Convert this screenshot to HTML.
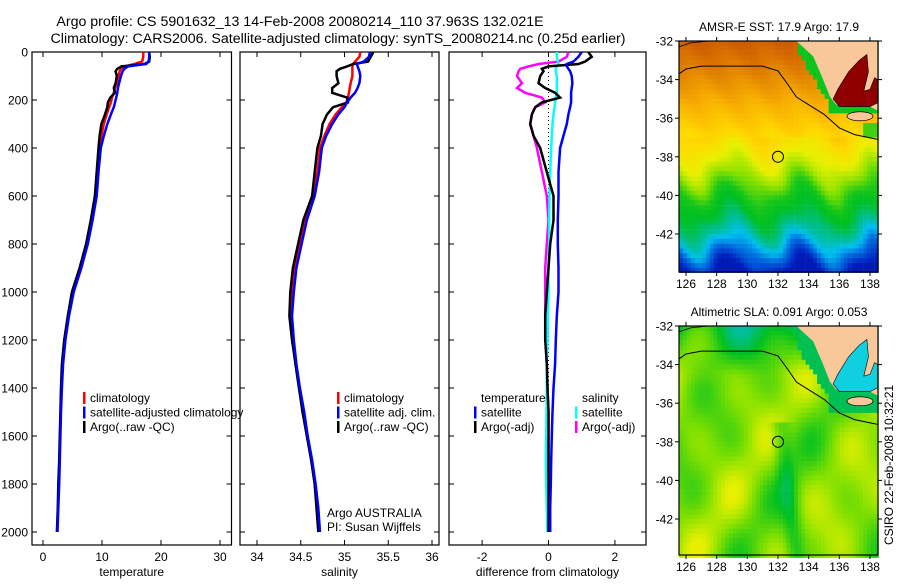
<!DOCTYPE html>
<html><head><meta charset="utf-8"><style>
body{margin:0;background:#fff;width:900px;height:580px;overflow:hidden}
svg text{font-family:"Liberation Sans",sans-serif;fill:#000}
</style></head><body>
<svg id="s" width="900" height="580" viewBox="0 0 900 580" xmlns="http://www.w3.org/2000/svg">
<text x="300" y="26" font-size="14.2" text-anchor="middle">Argo profile: CS 5901632_13 14-Feb-2008 20080214_110 37.963S 132.021E</text>
<text x="338" y="43" font-size="14.2" text-anchor="middle">Climatology: CARS2006. Satellite-adjusted climatology: synTS_20080214.nc (0.25d earlier)</text>
<text x="779" y="31" font-size="12" text-anchor="middle">AMSR-E SST: 17.9 Argo: 17.9</text>
<text x="779" y="316" font-size="12" text-anchor="middle">Altimetric SLA: 0.091 Argo: 0.053</text>
<text transform="translate(893,545) rotate(-90)" font-size="12">CSIRO 22-Feb-2008 10:32:21</text>
<g id="g"></g>
</svg>
<script>
// ---- profile data ----
const depth=[0,20,40,50,60,70,80,100,130,150,170,190,210,230,260,300,350,400,500,600,700,800,900,1000,1100,1200,1300,1400,1500,1600,1700,1800,1900,2000];
const climT=[17,17,16.8,15.5,13.9,13.2,13.0,12.8,12.5,12.2,12.0,11.7,11.5,11.2,10.8,10.3,9.9,9.6,9.3,8.9,8.2,7.4,6.3,5.0,4.3,3.7,3.3,3.1,3.0,2.9,2.8,2.7,2.55,2.4];
const satT=[18,18,17.9,17.5,14.4,13.8,13.5,13.2,12.9,12.7,12.6,12.4,12.2,12.0,11.5,10.9,10.3,9.8,9.4,9.1,8.4,7.6,6.5,5.2,4.4,3.8,3.4,3.2,3.05,2.95,2.85,2.75,2.6,2.45];
const argoT=[18,18.1,18.0,17.2,13.3,12.6,12.3,12.5,12.3,12.0,12.2,11.4,11.0,10.9,10.5,9.9,9.6,9.4,9.1,8.8,8.1,7.3,6.2,4.9,4.2,3.6,3.2,3.05,2.95,2.85,2.75,2.6,2.5,2.35];
const climS=[35.18,35.17,35.12,35.10,35.09,35.09,35.09,35.09,35.07,35.06,35.05,35.04,35.02,34.97,34.90,34.83,34.77,34.72,34.69,34.64,34.55,34.49,34.43,34.40,34.39,34.41,34.44,34.48,34.53,34.57,34.62,34.66,34.69,34.71];
const satS=[35.29,35.28,35.22,35.14,35.15,35.16,35.17,35.18,35.17,35.15,35.12,35.07,35.03,35.00,34.93,34.86,34.79,34.74,34.71,34.66,34.57,34.51,34.45,34.42,34.40,34.42,34.45,34.49,34.54,34.58,34.63,34.67,34.70,34.72];
const argoS=[35.33,35.30,35.27,35.10,35.03,34.95,34.91,34.91,34.93,34.86,34.86,35.03,35.04,34.87,34.80,34.75,34.73,34.69,34.66,34.63,34.53,34.47,34.41,34.38,34.37,34.40,34.44,34.48,34.52,34.57,34.62,34.66,34.68,34.70];
const satTdiff=[1.0,0.9,0.75,0.55,0.55,0.6,0.65,0.7,0.72,0.7,0.68,0.68,0.68,0.65,0.6,0.55,0.45,0.35,0.3,0.3,0.28,0.28,0.3,0.3,0.25,0.22,0.2,0.15,0.12,0.1,0.08,0.07,0.05,0.05];
const argoTdiff=[1.2,1.3,1.1,0.9,0,-0.2,-0.15,-0.25,-0.3,-0.1,0.2,0.35,-0.2,-0.4,-0.5,-0.55,-0.45,-0.25,-0.05,0.15,0.15,0.05,0.0,-0.05,-0.1,-0.1,-0.05,-0.03,0,0,0,0,0,0];
const satSdiff=[0.25,0.25,0.28,0.3,0.25,0.22,0.22,0.25,0.25,0.25,0.25,0.22,0.2,0.18,0.15,0.12,0.1,0.08,0.05,0.03,0.02,0.02,0,0,-0.02,-0.03,-0.05,-0.05,-0.06,-0.07,-0.08,-0.07,-0.05,-0.04];
const argoSdiff=[0.6,0.55,0.3,-0.3,-0.6,-0.85,-0.9,-0.95,-0.8,-0.95,-0.7,-0.2,-0.1,-0.4,-0.5,-0.55,-0.45,-0.35,-0.2,-0.05,0,-0.05,-0.1,-0.1,-0.1,-0.08,-0.05,-0.03,0,0,0,0,-0.02,-0.02];
const depthTicks=[0,200,400,600,800,1000,1200,1400,1600,1800,2000];
const tempTicks=[0,10,20,30];
const salTicks=[34,34.5,35,35.5,36];
const diffTicks=[-2,0,2];
const mapLonTicks=[126,128,130,132,134,136,138];
const mapLatTicks=[-32,-34,-36,-38,-40,-42];

const NS='http://www.w3.org/2000/svg';
const G=document.getElementById('g');
function el(tag,attrs,parent,txt){const e=document.createElementNS(NS,tag);for(const k in attrs)e.setAttribute(k,attrs[k]);if(txt!=null)e.textContent=txt;(parent||G).appendChild(e);return e;}
const yD=d=>52+d*0.24;
const Y0=52,Y1=545;
const panels=[
 {name:'temperature',x0:32,x1:231.5,v0:43,sc:5.9,ref:0,ticks:tempTicks,label:'temperature',ylab:true},
 {name:'salinity',x0:240,x1:439,v0:257,sc:87.5,ref:34,ticks:salTicks,label:'salinity'},
 {name:'difference',x0:449,x1:646,v0:548.5,sc:33.2,ref:0,ticks:diffTicks,label:'difference from climatology'}
];
panels.forEach(p=>{
  p.x=v=>p.v0+(v-p.ref)*p.sc;
  const g=el('g',{});
  
  
  el('rect',{x:p.x0,y:Y0,width:p.x1-p.x0,height:Y1-Y0,fill:'none',stroke:'#000','stroke-width':1.2},g);
  depthTicks.forEach(d=>{
    const y=yD(d);
    el('line',{x1:p.x0,x2:p.x0+5,y1:y,y2:y,stroke:'#000'},g);
    el('line',{x1:p.x1,x2:p.x1-5,y1:y,y2:y,stroke:'#000'},g);
    if(p.ylab){const t=el('text',{x:p.x0-4,y:y+4.5,'font-size':12,'text-anchor':'end'},g,String(d));
      
      }
  });
  p.ticks.forEach(v=>{
    const x=p.x(v);
    el('line',{x1:x,x2:x,y1:Y0,y2:Y0+5,stroke:'#000'},g);
    el('line',{x1:x,x2:x,y1:Y1,y2:Y1-5,stroke:'#000'},g);
    const t=el('text',{x:x,y:561,'font-size':12,'text-anchor':'middle'},g,String(v));
    
    
  });
  const t=el('text',{x:(p.x0+p.x1)/2,y:576,'font-size':12,'text-anchor':'middle'},g,p.label);
  
  
});
function line(p,vals,color,name,w){
  const pts=vals.map((v,i)=>p.x(v).toFixed(1)+','+yD(depth[i]).toFixed(1)).join(' ');
  const l=el('polyline',{points:pts,fill:'none',stroke:color,'stroke-width':w||2.5,'stroke-linejoin':'miter'});
  
  
}
const [P1,P2,P3]=panels;
line(P1,climT,'#f00','temp-climatology-line');line(P1,argoT,'#000','temp-argo-line');line(P1,satT,'#00f','temp-satellite-line');
line(P2,climS,'#f00','sal-climatology-line');line(P2,argoS,'#000','sal-argo-line');line(P2,satS,'#00f','sal-satellite-line');
const zl=el('line',{x1:P3.x(0),x2:P3.x(0),y1:Y0,y2:yD(2000),stroke:'#000','stroke-dasharray':'1 3','stroke-width':1});


line(P3,argoSdiff,'#f0f','sal-argo-diff-line');line(P3,satSdiff,'#0ff','sal-satellite-diff-line');
line(P3,argoTdiff,'#000','temp-argo-diff-line');line(P3,satTdiff,'#00f','temp-satellite-diff-line');
function legend(x,y,items,nm){
  items.forEach((it,i)=>{
    const yy=y+i*14.5;
    if(it[1]){const r=el('rect',{x:x,y:yy-10,width:2.5,height:12,fill:it[1]});
      
      }
    const t=el('text',{x:x+7,y:yy,'font-size':12},null,it[0]);
    
    
  });
}
legend(83,402,[['climatology','#f00'],['satellite-adjusted climatology','#00f'],['Argo(..raw -QC)','#000']],'temp');
legend(337,402,[['climatology','#f00'],['satellite adj. clim.','#00f'],['Argo(..raw -QC)','#000']],'sal');
legend(474,402,[['temperature',null],['satellite','#00f'],['Argo(-adj)','#000']],'diff-temp');
legend(575,402,[['salinity',null],['satellite','#0ff'],['Argo(-adj)','#f0f']],'diff-sal');
[['Argo AUSTRALIA',517],['PI: Susan Wijffels',531]].forEach(a=>{const t=el('text',{x:327,y:a[1],'font-size':12},null,a[0]);
  
  });

// ---- maps ----
const stops=[[0,[0,0,127]],[0.15,[0,32,192]],[0.25,[0,112,224]],[0.32,[0,192,240]],[0.38,[0,190,150]],[0.45,[0,192,32]],[0.55,[128,224,0]],[0.63,[232,240,0]],[0.7,[255,216,0]],[0.78,[248,176,0]],[0.86,[224,128,0]],[0.93,[192,64,0]],[1,[144,0,0]]];
function cmap(v){v=Math.max(0,Math.min(1,v));for(let i=1;i<stops.length;i++){if(v<=stops[i][0]){const a=stops[i-1],b=stops[i],t=(v-a[0])/(b[0]-a[0]);return 'rgb('+a[1].map((c,k)=>Math.round(c+(b[1][k]-c)*t)).join(',')+')';}}return 'rgb(144,0,0)';}
const coastLat=lon=>lon<133.2?99:(lon<135.4?-32-(lon-133.2)*(2.9/2.2):-35.4);
const sstS=[0,1.5,3,4.5,6,7,8,9,10,10.6,11.2,12];
const sstV=[0.9,0.86,0.79,0.72,0.64,0.57,0.47,0.44,0.37,0.3,0.22,0.12];
function interp(xs,ys,x){if(x<=xs[0])return ys[0];for(let i=1;i<xs.length;i++)if(x<=xs[i])return ys[i-1]+(ys[i]-ys[i-1])*(x-xs[i-1])/(xs[i]-xs[i-1]);return ys[ys.length-1];}
function sst(lat,lon){
  let s=(-32-lat);
  if(s>5) s+=0.6*Math.sin((lon-127.8)*Math.PI/2.3);
  s+=0.25*Math.sin(lon*2.3+lat*1.7);
  let v=interp(sstS,sstV,s);
  const c=coastLat(lon); if(c<50 && c-lat<0.45 && lat>-36.2) v=0.46;
  if(lon>137.6&&lat>-37.1&&lat<-36.2) v=0.5;
  return v;
}
function sla(lat,lon){
  let v=0.55+0.05*Math.sin(1.3*(lon-126)+0.5)*Math.cos(1.1*(lat+38))+0.04*Math.sin(0.8*lon-0.6*lat);
  if(lat<-37) v-=0.08*Math.exp(-Math.pow(lon-132.3-(-38-lat)*0.15,2)/0.4);
  if(lat>-34.5) v-=(lat+34.5)*0.05;
  const c=coastLat(lon); if(c<50 && c-lat<1.0) v=Math.min(v,0.42);
  return v;
}
const maps=[{name:'sst-map',top:41,bottom:272,f:sst,gulf:'#900000'},{name:'sla-map',top:326,bottom:555,f:sla,gulf:'#10d0e0'}];
const lonX=lon=>686+(lon-126)*15.33;
maps.forEach(m=>{
  const latY=lat=>m.top+(-32-lat)*19.3;
  const g=el('g',{});
  
  
  const L0=125.55,L1=138.5,B=-32-(m.bottom-m.top)/19.3;
  for(let lon=L0;lon<L1;lon+=0.25){for(let lat=-32;lat>B;lat-=0.25){
    el('rect',{x:lonX(lon).toFixed(1),y:latY(lat).toFixed(1),width:4.1,height:5.1,fill:cmap(m.f(lat-0.125,lon+0.125))},g);
  }}
  const P=a=>a.map(q=>lonX(q[0]).toFixed(1)+','+latY(q[1]).toFixed(1)).join(' ');
  const land=el('polygon',{points:P([[133.2,-32],[134.3,-32.8],[134.9,-33.9],[135.4,-34.9],[135.8,-35.3],[138,-35.4],[138.5,-35.6],[138.5,-32]]),fill:'#f9c89a'},g);
  
  
  const gulf=el('polygon',{points:P([[135.6,-35.0],[135.9,-34.5],[136.6,-33.6],[137.3,-33.0],[137.8,-32.7],[137.9,-33.6],[137.6,-34.6],[138.0,-34.5],[138.3,-33.9],[138.5,-34.0],[138.5,-35.2],[138.0,-35.4],[136.0,-35.4]]),fill:m.gulf,stroke:'#000','stroke-width':0.6},g);
  
  
  el('ellipse',{cx:lonX(137.35),cy:latY(-35.9),rx:13,ry:4.5,fill:'#f9c89a',stroke:'#000','stroke-width':0.7},g);
  el('polyline',{points:P([[125.55,-33.7],[126,-33.45],[127,-33.3],[131,-33.3],[132,-33.55],[132.6,-34.2],[133.2,-34.9],[134,-35.3],[135,-35.8],[136,-36.5],[137,-36.85],[138.5,-37.1]]),fill:'none',stroke:'#000','stroke-width':1},g);
  el('polyline',{points:P([[125.55,-32.3],[126.3,-32.1],[127.5,-32]]),fill:'none',stroke:'#000','stroke-width':0.8},g);
  const c=el('circle',{cx:lonX(132),cy:latY(-38),r:5.5,fill:'none',stroke:'#000','stroke-width':1},g);
  
  
  el('rect',{x:679,y:m.top,width:199,height:m.bottom-m.top,fill:'none',stroke:'#000','stroke-width':1.2},g);
  mapLonTicks.forEach(lon=>{const x=lonX(lon);
    el('line',{x1:x,x2:x,y1:m.top,y2:m.top-4,stroke:'#000'},g);
    el('line',{x1:x,x2:x,y1:m.bottom,y2:m.bottom+4,stroke:'#000'},g);
    const t=el('text',{x:x,y:m.bottom+16,'font-size':12,'text-anchor':'middle'},g,String(lon));
    
    });
  mapLatTicks.forEach(lat=>{const y=latY(lat);
    el('line',{x1:679,x2:675,y1:y,y2:y,stroke:'#000'},g);
    el('line',{x1:878,x2:882,y1:y,y2:y,stroke:'#000'},g);
    const t=el('text',{x:673,y:y+4.5,'font-size':12,'text-anchor':'end'},g,String(lat));
    
    });
});
</script>
</body></html>
